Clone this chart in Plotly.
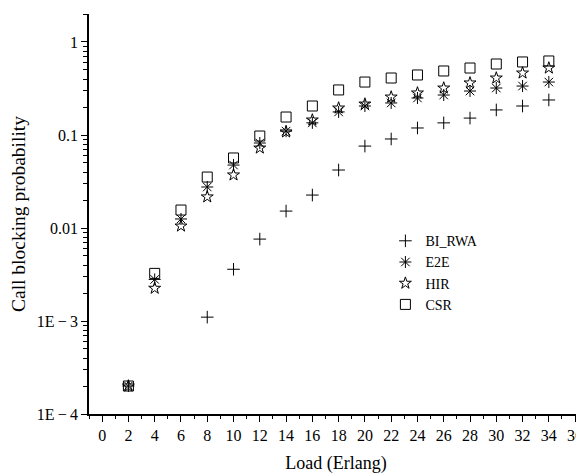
import plotly.graph_objects as go

load = [2, 4, 6, 8, 10, 12, 14, 16, 18, 20, 22, 24, 26, 28, 30, 32, 34]

bi_rwa_x = [8, 10, 12, 14, 16, 18, 20, 22, 24, 26, 28, 30, 32, 34]
bi_rwa = [1.1e-3, 3.6e-3, 7.6e-3, 0.0152, 0.0226, 0.042, 0.076, 0.0906, 0.119,
          0.135, 0.152, 0.186, 0.205, 0.238]
e2e = [2.0e-4, 2.8e-3, 0.0125, 0.0276, 0.0475, 0.082, 0.110, 0.135, 0.177,
       0.205, 0.221, 0.25, 0.269, 0.297, 0.32, 0.336, 0.371]
hir = [2.0e-4, 2.25e-3, 0.0105, 0.0216, 0.0372, 0.0724, 0.108, 0.145, 0.195,
       0.215, 0.256, 0.283, 0.32, 0.363, 0.41, 0.464, 0.525]
csr = [2.0e-4, 3.25e-3, 0.0156, 0.0353, 0.0566, 0.0975, 0.156, 0.205, 0.305,
       0.371, 0.41, 0.442, 0.488, 0.525, 0.58, 0.61, 0.625]

y_tickvals = [1e-4, 1e-3, 1e-2, 1e-1, 1]
y_ticktext = ["1E\u2009\u2212\u20094", "1E\u2009\u2212\u20093", "0.01", "0.1", "1"]
x_tickvals = list(range(0, 37, 2))

FONT = "Liberation Serif, Times New Roman, serif"
fig = go.Figure()

def add(name, x, y, symbol, size):
    fig.add_trace(go.Scatter(
        x=x, y=y, mode="markers", name=name,
        marker=dict(symbol=symbol, size=size, color="black",
                    line=dict(color="black", width=1)),
    ))

add("BI_RWA", bi_rwa_x, bi_rwa, "cross-thin-open", 9)
add("E2E", load, e2e, "asterisk-open", 10)
add("HIR", load, hir, "star-open", 9)
add("CSR", load, csr, "square-open", 10)

minor_y = [k * 10.0 ** e for e in range(-4, 1) for k in range(2, 10)]

# page body adds an 8px offset; figure sized to fill the rest of the 584x474 window
fig.update_layout(
    width=576, height=466,
    margin=dict(l=81, r=1, t=6, b=60),
    paper_bgcolor="white", plot_bgcolor="white",
    font=dict(family=FONT, size=16, color="black"),
    showlegend=True,
    legend=dict(x=0.6, y=0.472, xanchor="left", yanchor="top",
                bgcolor="rgba(0,0,0,0)", font=dict(family=FONT, size=14),
                tracegroupgap=0),
    xaxis=dict(
        range=[-1, 36.6], tickvals=x_tickvals, ticks="outside", ticklen=6,
        tickwidth=1.2, tickcolor="black", showline=True, linecolor="black",
        linewidth=1.5, showgrid=False, zeroline=False, automargin=False,
        minor=dict(dtick=1, tick0=0, ticks="outside", ticklen=3, tickwidth=1,
                   tickcolor="black", showgrid=False),
        title=dict(text="Load (Erlang)", font=dict(family=FONT, size=18)),
        tickfont=dict(family=FONT, size=16),
    ),
    yaxis=dict(
        type="log", range=[-4, 0.301], tickvals=y_tickvals, ticktext=y_ticktext,
        ticks="outside", ticklen=6, tickwidth=1.2, tickcolor="black",
        showline=True, linecolor="black", linewidth=1.5, showgrid=False,
        zeroline=False, automargin=False,
        minor=dict(tickvals=minor_y, ticks="outside", ticklen=4, tickwidth=1,
                   tickcolor="black", showgrid=False),
        title=dict(text="Call blocking probability", font=dict(family=FONT, size=19.5)),
        tickfont=dict(family=FONT, size=16),
    ),
)

fig.write_html("out.html")
